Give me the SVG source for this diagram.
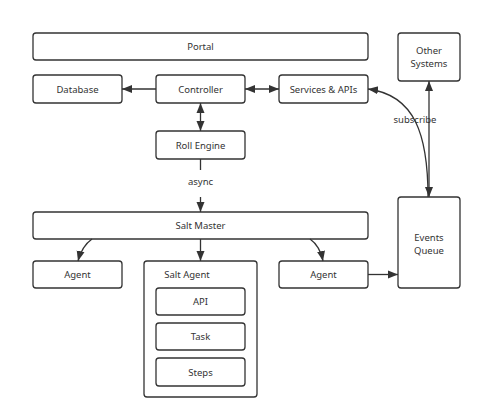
<svg xmlns="http://www.w3.org/2000/svg" width="482" height="419" viewBox="0 0 482 419">
<defs>
<marker id="ah" viewBox="0 0 10 10" refX="10" refY="5" markerWidth="10" markerHeight="10" markerUnits="userSpaceOnUse" orient="auto-start-reverse">
<path d="M0,1 L10,5 L0,9 Z" fill="#333"/>
</marker>
<style>
.box{fill:#fff;stroke:#333;stroke-width:1.3}
.t{font-family:"Noto Sans","DejaVu Sans",sans-serif;font-size:9.5px;fill:#333;text-anchor:middle;dominant-baseline:central}
.c{fill:none;stroke:#333;stroke-width:1.3}
</style>
</defs>
<rect width="482" height="419" fill="#fff"/>
<g id="portal"><rect class="box" x="33" y="33" width="335" height="27" rx="3"/><text class="t" x="200.5" y="46.5">Portal</text></g>
<g id="other-systems"><rect class="box" x="398" y="33" width="62" height="48" rx="3"/><text class="t" x="429" y="50"><tspan x="429">Other</tspan><tspan x="429" dy="12.5">Systems</tspan></text></g>
<g id="database"><rect class="box" x="33" y="75" width="89" height="28" rx="3"/><text class="t" x="77.5" y="89">Database</text></g>
<g id="controller"><rect class="box" x="156" y="75" width="89" height="28" rx="3"/><text class="t" x="200.5" y="89">Controller</text></g>
<g id="services"><rect class="box" x="279" y="75" width="89" height="28" rx="3"/><text class="t" x="323.5" y="89">Services &amp; APIs</text></g>
<g id="roll-engine"><rect class="box" x="156" y="131" width="89" height="28" rx="3"/><text class="t" x="200.5" y="145">Roll Engine</text></g>
<g id="salt-master"><rect class="box" x="33" y="212" width="335" height="27" rx="3"/><text class="t" x="200.5" y="225.5">Salt Master</text></g>
<g id="events-queue"><rect class="box" x="398" y="197" width="62" height="91" rx="3"/><text class="t" x="429" y="237"><tspan x="429">Events</tspan><tspan x="429" dy="12.5">Queue</tspan></text></g>
<g id="agent-left"><rect class="box" x="33" y="261" width="89" height="27" rx="3"/><text class="t" x="77.5" y="274.5">Agent</text></g>
<g id="salt-agent"><rect class="box" x="144" y="261" width="113" height="136" rx="3"/><text class="t" x="187" y="274.5">Salt Agent</text>
<g id="api"><rect class="box" x="156" y="288" width="89" height="27" rx="3"/><text class="t" x="200.5" y="301.5">API</text></g>
<g id="task"><rect class="box" x="156" y="323" width="89" height="27" rx="3"/><text class="t" x="200.5" y="336.5">Task</text></g>
<g id="steps"><rect class="box" x="156" y="358" width="89" height="28" rx="3"/><text class="t" x="200.5" y="372">Steps</text></g>
</g>
<g id="agent-right"><rect class="box" x="279" y="261" width="89" height="27" rx="3"/><text class="t" x="323.5" y="274.5">Agent</text></g>
<g id="connectors">
<line class="c" x1="156" y1="89" x2="122" y2="89" marker-end="url(#ah)"/>
<line class="c" x1="245" y1="89" x2="279" y2="89" marker-start="url(#ah)" marker-end="url(#ah)"/>
<line class="c" x1="200.5" y1="103" x2="200.5" y2="131" marker-start="url(#ah)" marker-end="url(#ah)"/>
<line class="c" x1="200.5" y1="159" x2="200.5" y2="170"/>
<line class="c" x1="200.5" y1="197" x2="200.5" y2="212" marker-end="url(#ah)"/>
<text class="t" x="200.5" y="181">async</text>
<path class="c" d="M92,239 Q82,246 78,261" marker-end="url(#ah)"/>
<line class="c" x1="200.5" y1="239" x2="200.5" y2="261" marker-end="url(#ah)"/>
<path class="c" d="M310,239 Q320,246 323,261" marker-end="url(#ah)"/>
<line class="c" x1="368" y1="274.5" x2="398" y2="274.5" marker-end="url(#ah)"/>
<line class="c" x1="429" y1="81" x2="429" y2="197" marker-start="url(#ah)" marker-end="url(#ah)"/>
<path class="c" d="M428,197 C428,135 415,95 368,89" marker-end="url(#ah)"/>
<text class="t" x="415" y="119">subscribe</text>
</g>
</svg>
